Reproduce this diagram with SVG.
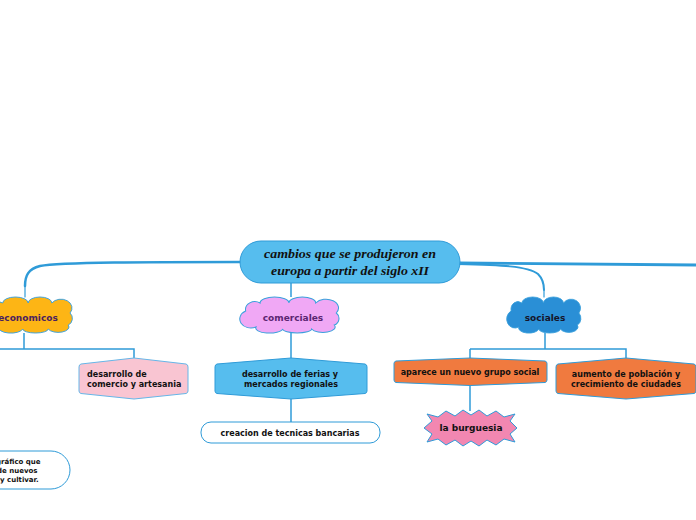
<svg xmlns="http://www.w3.org/2000/svg" width="696" height="520" viewBox="0 0 696 520">
<defs>
<style>
.c{fill:none;stroke:#2F9BD8;stroke-width:1.5}
.cm{fill:none;stroke:#2F9BD8;stroke-linecap:round}
.n{stroke:#3AA0DC;stroke-width:1;vector-effect:non-scaling-stroke}
.t{font-family:"DejaVu Sans",Verdana,sans-serif;font-weight:bold;font-size:8px;fill:#111}
.tc{text-anchor:middle}
.main{font-family:"Liberation Serif",serif;font-style:italic;font-weight:bold;font-size:13.5px;fill:#111;text-anchor:middle}
</style>
<path id="cloud" d="M-44,-4 A9 8 0 0 1 -30,-12 A14 6 0 0 1 -2,-12 A13 6 0 0 1 24,-12 A11 8 0 0 1 44,-2 A7 7 0 0 1 42,10 A11 5 0 0 1 20,14 A14 4 0 0 1 -8,14 A13 5 0 0 1 -34,12 A9.5 8 0 0 1 -44,-4 Z"/>
</defs>
<rect width="696" height="520" fill="#fff"/>
<g id="connectors">
<path class="cm" stroke-width="2.5" d="M242,262 C150,262 60,262 40,266 C28,269 25,276 25,286"/>
<path class="cm" stroke-width="1.2" d="M25,285 L25,297"/>
<path class="cm" stroke-width="2.8" d="M458,263 L696,265"/>
<path class="cm" stroke-width="2" d="M458,264 C500,265 528,266 538,274 C543,279 544,284 544,290"/>
<path class="cm" stroke-width="1.2" d="M544,289 L544,297"/>
<path class="c" d="M291,283 L291,297"/>
<path class="c" d="M24,333 L24,349 M0,349 L134,349 L134,358"/>
<path class="c" d="M291,333 L291,358"/>
<path class="c" d="M291,399 L291,422"/>
<path class="c" d="M545,333 L545,349 M470,349 L626,349 L626,358 M470,349 L470,358"/>
<path class="c" d="M470,385 L470,411"/>
</g>
<g id="central">
<rect x="240" y="241" width="220" height="42" rx="21" fill="#56BDEE" stroke="#2F9BD8" stroke-width="1"/>
<text class="main" x="350" y="258" textLength="172" lengthAdjust="spacingAndGlyphs">cambios que se produjeron en</text>
<text class="main" x="350" y="275" textLength="158" lengthAdjust="spacingAndGlyphs">europa a partir del siglo xII</text>
</g>
<g id="economicos">
<use href="#cloud" class="n" fill="#FDB515" transform="translate(30,315) scale(0.91,1)"/>
<text class="t tc" x="28" y="321" style="fill:#4B1F5F;font-size:9px">economicos</text>
</g>
<g id="comerciales">
<use href="#cloud" class="n" fill="#F0A8F5" transform="translate(291,315) scale(1.03,1)"/>
<text class="t tc" x="293" y="321" style="fill:#5B2572;font-size:9px">comerciales</text>
</g>
<g id="sociales">
<use href="#cloud" class="n" fill="#2A8FD6" transform="translate(545,315) scale(0.77,1)"/>
<text class="t tc" x="545" y="321" style="fill:#15152a;font-size:9px">sociales</text>
</g>
<g id="desarrollo-comercio">
<path d="M81,364 L134,358 L186,364 Q188,364.5 188,367 L188,391 Q188,393 186,393.5 L134,399 L81,393.5 Q79,393 79,391 L79,367 Q79,364.5 81,364 Z" fill="#F9C5D2" stroke="#66B6E8" stroke-width="1"/>
<text class="t" x="87" y="377">desarrollo de</text>
<text class="t" x="87" y="387">comercio y artesania</text>
</g>
<g id="ferias">
<path d="M217,364 L291,358 L365,364 Q367,364.5 367,367 L367,391 Q367,393 365,393.5 L291,399 L217,393.5 Q215,393 215,391 L215,367 Q215,364.5 217,364 Z" fill="#56BDEE" stroke="#2F9BD8" stroke-width="1"/>
<text class="t tc" x="290" y="377">desarrollo de ferias y</text>
<text class="t tc" x="291" y="387">mercados regionales</text>
</g>
<g id="bancarias">
<rect x="201" y="422" width="179" height="21" rx="10" fill="#fff" stroke="#2F9BD8" stroke-width="1"/>
<text class="t tc" x="290" y="436">creacion de tecnicas bancarias</text>
</g>
<g id="grupo-social">
<path d="M396,361 L470,358 L545,361 Q547,361.5 547,363.5 L547,380 Q547,382 545,382.5 L470,385.5 L396,382.5 Q394,382 394,380 L394,363.5 Q394,361.5 396,361 Z" fill="#F07A3F" stroke="#2F9BD8" stroke-width="1"/>
<text class="t tc" x="470" y="375">aparece un nuevo grupo social</text>
</g>
<g id="poblacion">
<path d="M558,364 L626,358 L694,364 Q696,364.5 696,367 L696,391 Q696,393 694,393.5 L626,399 L558,393.5 Q556,393 556,391 L556,367 Q556,364.5 558,364 Z" fill="#F07A3F" stroke="#2F9BD8" stroke-width="1"/>
<text class="t tc" x="626" y="377">aumento de población y</text>
<text class="t tc" x="626" y="387">crecimiento de ciudades</text>
</g>
<g id="burguesia">
<path d="M427,414 L438,417 L446,411 L455,416 L463,410 L471,415 L479,410 L487,416 L496,411 L504,417 L515,414 L510,421 L517,428 L510,434 L515,442 L504,439 L496,445 L487,440 L479,446 L471,441 L463,446 L455,440 L446,445 L438,439 L427,442 L432,434 L424,428 L432,421 Z" fill="#F287B1" stroke="#2F9BD8" stroke-width="1"/>
<text class="t tc" x="471" y="431" style="font-size:9px">la burguesia</text>
</g>
<g id="grafico">
<rect x="-80" y="451" width="150" height="38" rx="19" fill="#fff" stroke="#2F9BD8" stroke-width="1"/>
<text class="t" x="-4" y="464" style="font-size:7px">gráfico que</text>
<text class="t" x="-3" y="473" style="font-size:7px">de nuevos</text>
<text class="t" x="0" y="482" style="font-size:7px">y cultivar.</text>
</g>
</svg>
